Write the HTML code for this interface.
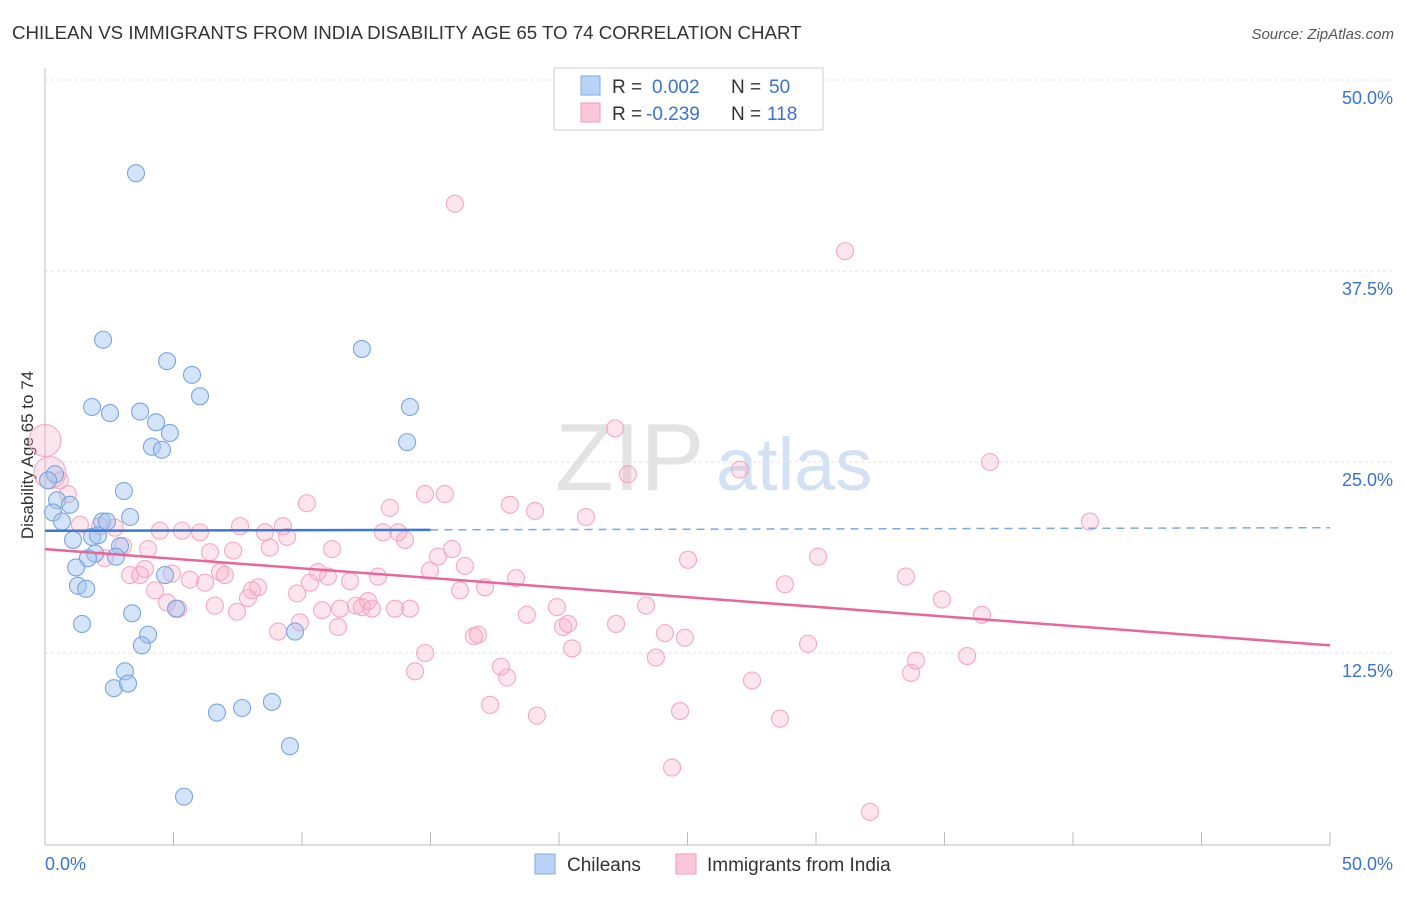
<!DOCTYPE html>
<html><head><meta charset="utf-8"><style>
body{margin:0;background:#fff;font-family:"Liberation Sans",sans-serif;}
svg text{font-family:"Liberation Sans",sans-serif;}
</style></head><body>
<svg id="chart" width="1406" height="892" xmlns="http://www.w3.org/2000/svg">
<text x="12" y="39" font-size="18.7" fill="#333">CHILEAN VS IMMIGRANTS FROM INDIA DISABILITY AGE 65 TO 74 CORRELATION CHART</text>
<text x="1394" y="39" font-size="15" fill="#555" text-anchor="end" font-style="italic">Source: ZipAtlas.com</text>
<text x="555" y="490" font-size="96" fill="#ddd" font-family="Liberation Serif" opacity="0.8">ZIP</text>
<text x="716" y="490" font-size="74" fill="#c8daf2" opacity="0.8">atlas</text>
<text transform="translate(33,455) rotate(-90)" font-size="17" fill="#333" text-anchor="middle">Disability Age 65 to 74</text>
<g id="grid"></g><g id="axes"></g><g id="pts"></g><g id="lines"></g>
<g>
<rect x="554" y="68" width="269" height="62" fill="#fff" stroke="#ccc"/>
<rect x="581" y="76" width="19" height="19" fill="#b8d3f5" stroke="#7fa8e0"/>
<rect x="581" y="103" width="19" height="19" fill="#fcc8d8" stroke="#f09ab8"/>
<text x="612" y="93" font-size="19" fill="#333">R =</text>
<text x="652" y="93" font-size="19" fill="#3a72d0">0.002</text>
<text x="731" y="93" font-size="19" fill="#333">N =</text>
<text x="769" y="93" font-size="19" fill="#3a72d0">50</text>
<text x="612" y="120" font-size="19" fill="#333">R =</text>
<text x="646" y="120" font-size="19" fill="#3a72d0">-0.239</text>
<text x="731" y="120" font-size="19" fill="#333">N =</text>
<text x="767" y="120" font-size="19" fill="#3a72d0">118</text>
</g>
<g>
<rect x="535" y="854" width="20" height="20" fill="#b8d3f5" stroke="#7fa8e0"/>
<text x="567" y="871" font-size="19" fill="#333">Chileans</text>
<rect x="676" y="854" width="20" height="20" fill="#fcc8d8" stroke="#f09ab8"/>
<text x="707" y="871" font-size="19" fill="#333">Immigrants from India</text>
</g>
</svg>
<script>
const yTicks=[12.5,25,37.5,50];
const yTickLabels=["12.5%","25.0%","37.5%","50.0%"];
const xTicks=[0,5,10,15,20,25,30,35,40,45,50];
const blueX=[3.54,2.26,4.75,12.33,5.72,6.03,1.83,2.53,3.70,4.32,4.86,4.16,4.55,14.2,14.09,3.07,0.39,0.47,0.97,0.31,0.66,2.22,3.31,2.41,1.83,1.09,2.06,2.92,1.95,1.67,2.76,1.21,4.67,1.28,1.60,3.39,5.10,1.44,4.01,3.77,9.73,3.11,2.68,3.23,6.69,7.67,8.83,9.53,5.41,0.12];
const blueY=[43.9,33.0,31.6,32.4,30.7,29.3,28.6,28.2,28.3,27.6,26.9,26.0,25.8,28.6,26.3,23.1,24.2,22.5,22.2,21.7,21.1,21.1,21.4,21.1,20.1,19.9,20.2,19.5,19.0,18.7,18.8,18.1,17.6,16.9,16.7,15.1,15.4,14.4,13.7,13.0,13.9,11.3,10.2,10.5,8.6,8.9,9.3,6.4,3.1,23.8];
const pinkX=[0,0.19,0.89,0.58,15.95,31.13,22.18,22.68,27.04,36.77,40.66,10.19,13.42,14.79,15.56,18.09,19.07,21.05,1.36,2.14,2.72,4.47,5.33,6.03,7.59,8.56,9.26,9.42,13.15,13.74,14.01,3.04,4.01,6.42,7.32,8.75,11.17,15.29,15.84,2.33,3.31,3.70,3.89,4.94,5.64,6.23,7.00,6.81,8.29,8.05,10.62,10.31,11.01,11.87,12.96,14.98,16.34,16.15,17.12,18.33,25.02,30.08,33.5,28.79,4.28,4.75,5.18,6.61,7.47,7.90,9.81,10.78,11.48,12.10,12.33,12.57,12.72,13.62,14.2,18.75,19.92,23.39,34.9,36.46,9.07,9.92,11.4,16.69,16.85,20.16,20.35,22.22,24.12,24.9,20.51,14.79,23.77,29.69,33.89,35.88,14.4,17.74,17.98,27.51,33.7,17.32,19.14,24.71,28.6,24.4,32.1];
const pinkY=[26.4,24.3,22.9,23.8,41.9,38.8,27.2,24.2,24.5,25.0,21.1,22.3,22.0,22.9,22.9,22.2,21.8,21.4,20.9,20.8,20.7,20.5,20.5,20.4,20.8,20.4,20.8,20.1,20.4,20.4,19.9,19.5,19.3,19.1,19.2,19.4,19.3,18.8,19.3,18.7,17.6,17.6,18.0,17.7,17.3,17.1,17.6,17.8,16.8,16.6,17.8,17.1,17.5,17.2,17.5,17.9,18.2,16.6,16.8,17.4,18.6,18.8,17.5,17.0,16.6,15.8,15.4,15.6,15.2,16.1,16.4,15.3,15.4,15.6,15.5,15.9,15.4,15.4,15.4,15.0,15.5,15.6,16.0,15.0,13.9,14.5,14.2,13.6,13.7,14.2,14.4,14.4,13.8,13.5,12.8,12.5,12.2,13.1,12.0,12.3,11.3,11.6,10.9,10.7,11.2,9.1,8.4,8.7,8.2,5.0,2.1];
const bigPink=[0,1];
const blueTrend=[20.5,0.004]; // intercept, slope
const pinkTrend=[19.3,-0.126];
const blueSolidEnd=15;
const NS="http://www.w3.org/2000/svg";
const X=v=>45+v*25.7, Y=v=>844-v*15.28;
function mk(t,a,p){const e=document.createElementNS(NS,t);for(const k in a)e.setAttribute(k,a[k]);p.appendChild(e);return e;}
const grid=document.getElementById('grid'),axes=document.getElementById('axes');
yTicks.forEach((t,i)=>{
 const l=mk('line',{x1:45,x2:1394,y1:Y(t),y2:Y(t),stroke:'#e2e2e2','stroke-dasharray':'3,3'},grid);
 
 
 const tx=mk('text',{x:1393,y:Y(t)+24,'font-size':18,fill:'#3a72d0','text-anchor':'end'},grid);
 tx.textContent=yTickLabels[i];
 
 
});
const ax=mk('line',{x1:45,x2:1330,y1:845,y2:845,stroke:'#bbb'},axes);


const ay=mk('line',{x1:45,x2:45,y1:68,y2:845,stroke:'#bbb'},axes);


xTicks.forEach(t=>{const l=mk('line',{x1:X(t),x2:X(t),y1:832,y2:845,stroke:'#bbb'},axes);
 
 });
[[0,'0.0%','start',45],[50,'50.0%','end',1393]].forEach(d=>{const t=mk('text',{x:d[3],y:870,'font-size':18,fill:'#3a72d0','text-anchor':d[2]},axes);t.textContent=d[1];
 
 });
const pts=document.getElementById('pts');
pinkX.forEach((v,i)=>{const big=bigPink.includes(i);
 const c=mk('circle',{cx:X(v),cy:Y(pinkY[i]),r:big?16:8.5,fill:'rgba(247,170,195,0.3)',stroke:'#f4a8c2','stroke-width':1.1},pts);
 
 });
blueX.forEach((v,i)=>{const c=mk('circle',{cx:X(v),cy:Y(blueY[i]),r:8.5,fill:'rgba(160,195,240,0.45)',stroke:'#7aa5e0','stroke-width':1.1},pts);
 
 });
const lines=document.getElementById('lines');
const bl=mk('line',{x1:X(0),y1:Y(blueTrend[0]),x2:X(blueSolidEnd),y2:Y(blueTrend[0]+blueTrend[1]*blueSolidEnd),stroke:'#3a78d8','stroke-width':2.5},lines);


const bd=mk('line',{x1:X(blueSolidEnd),y1:Y(blueTrend[0]+blueTrend[1]*blueSolidEnd),x2:X(50),y2:Y(blueTrend[0]+blueTrend[1]*50),stroke:'#7fa8e0','stroke-width':1.5,'stroke-dasharray':'8,6'},lines);


const pl=mk('line',{x1:X(0),y1:Y(pinkTrend[0]),x2:X(50),y2:Y(pinkTrend[0]+pinkTrend[1]*50),stroke:'#e8679a','stroke-width':2.5},lines);


</script>
</body></html>
